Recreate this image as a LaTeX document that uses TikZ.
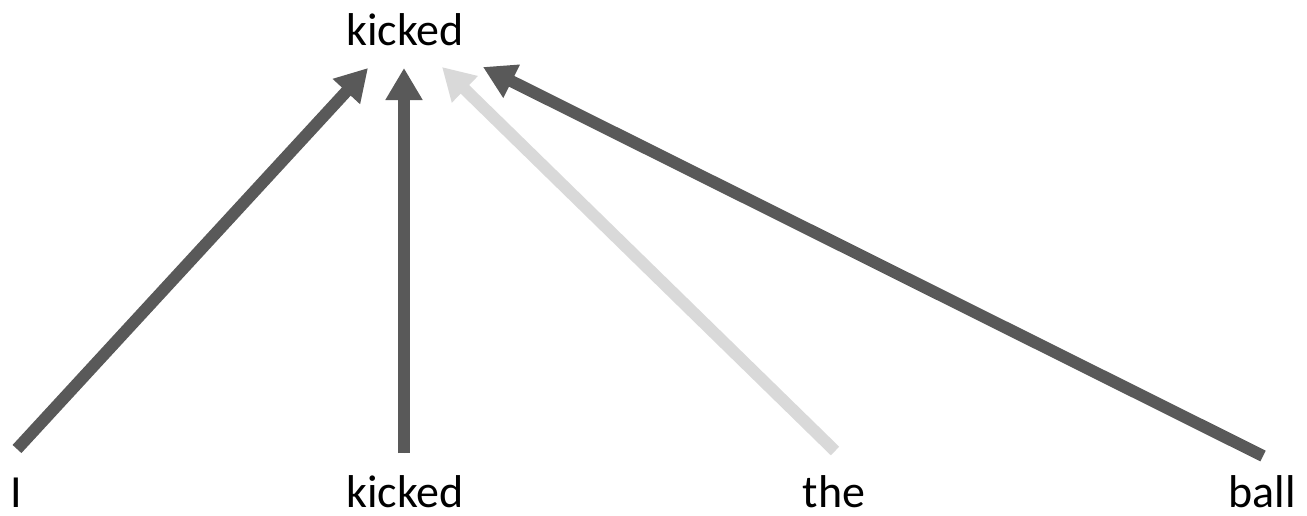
\documentclass[tikz,border=0pt]{standalone}
\usepackage{fontspec}
\setmainfont{Carlito}
\usetikzlibrary{arrows.meta}
\definecolor{edgedark}{HTML}{595959}
\definecolor{edgelight}{HTML}{D9D9D9}
\begin{document}
\begin{tikzpicture}[x=1pt,y=-1pt,
  word/.style={anchor=base,inner sep=0pt,font=\fontsize{46}{54}\selectfont},
  dep/.style={line width=12pt,-{Triangle[width=35pt,length=32pt]}},
  strong/.style={dep,draw=edgedark,fill=edgedark},
  weak/.style={dep,draw=edgelight,fill=edgelight}]
  \useasboundingbox (0,0) rectangle (1307,515);
  % head word and the sentence below
  \node[word] (head) at (405,45) {kicked};
  \node[word] (wI) at (16,507) {I};
  \node[word] (wkicked) at (405,507) {kicked};
  \node[word] (wthe) at (834,507) {the};
  \node[word] (wball) at (1262,507) {ball};
  % arrow tails above the words, tips below the head
  \coordinate (tI) at ([shift={(1,-58)}]wI.base);
  \coordinate (tkicked) at ([shift={(-1,-54)}]wkicked.base);
  \coordinate (tthe) at ([shift={(1,-56)}]wthe.base);
  \coordinate (tball) at ([shift={(1,-51)}]wball.base);
  \coordinate (hI) at ([shift={(-37,23)}]head.base);
  \coordinate (hkicked) at ([shift={(-1,23)}]head.base);
  \coordinate (hthe) at ([shift={(37,22)}]head.base);
  \coordinate (hball) at ([shift={(78,22)}]head.base);
  % attention arcs
  \draw[strong] (tI) -- (hI);
  \draw[strong] (tkicked) -- (hkicked);
  \draw[weak] (tthe) -- (hthe);
  \draw[strong] (tball) -- (hball);
\end{tikzpicture}
\end{document}
